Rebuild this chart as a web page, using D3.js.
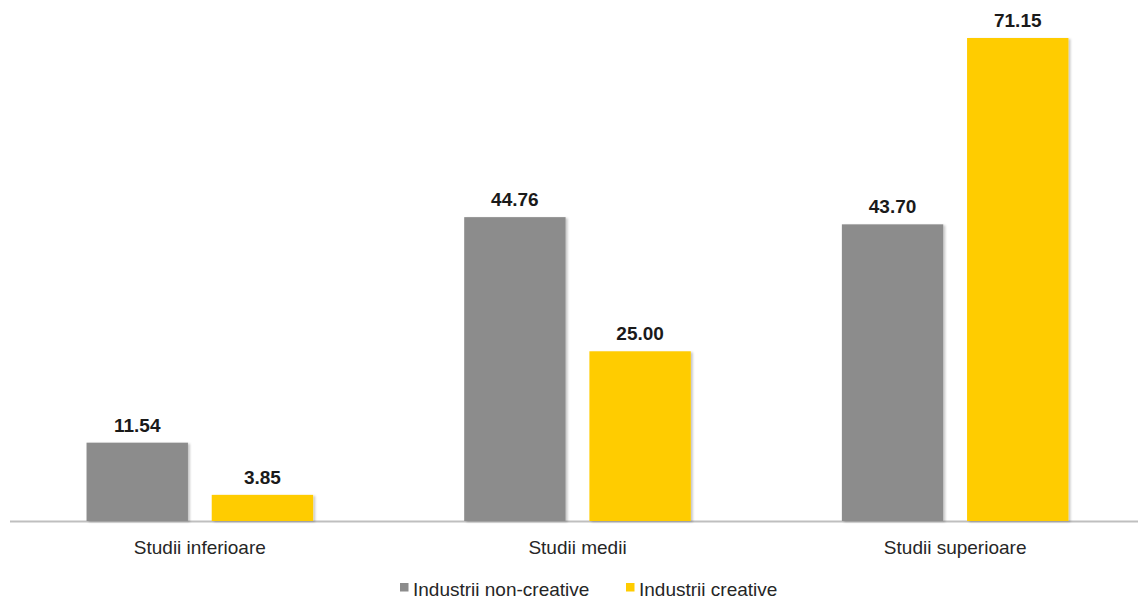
<!DOCTYPE html>
<html>
<head>
<meta charset="utf-8">
<script src="https://cdn.jsdelivr.net/npm/d3@7"></script>
<style>
  body { margin: 0; background: #fff; }
  svg { display: block; font-family: "Liberation Sans", Arial, sans-serif; }
</style>
</head>
<body>
<div id="chart"></div>
<script>
const W = 1138, H = 599;

const categories = ["Studii inferioare", "Studii medii", "Studii superioare"];
const seriesNames = ["Industrii non-creative", "Industrii creative"];
const nonCreative = [11.54, 44.76, 43.70];
const creative = [3.85, 25.00, 71.15];
const seriesColors = ["#8c8c8c", "#ffcc00"];

const values = [nonCreative, creative];

const svg = d3.select("#chart").append("svg").attr("width", W).attr("height", H);

const defs = svg.append("defs");
const f = defs.append("filter").attr("id", "shadow").attr("x", "-10%").attr("y", "-10%").attr("width", "130%").attr("height", "130%");
f.append("feDropShadow").attr("dx", 2).attr("dy", 1).attr("stdDeviation", 1.2).attr("flood-color", "#000").attr("flood-opacity", 0.22);

const x0 = d3.scaleBand().domain(categories).range([11, 1144]).paddingInner(0.4).paddingOuter(0.2);
const x1 = d3.scaleBand().domain(seriesNames).range([0, x0.bandwidth()]).paddingInner(0.19).paddingOuter(0);
const y = d3.scaleLinear().domain([0, 71.15]).range([521, 38]);

// axis line
svg.append("line").attr("x1", 10).attr("x2", W).attr("y1", 521.5).attr("y2", 521.5)
  .attr("stroke", "#bfbfbf").attr("stroke-width", 2);

const groups = svg.selectAll("g.cat").data(categories).join("g")
  .attr("class", "cat").attr("transform", d => `translate(${x0(d)},0)`);

groups.each(function (cat, ci) {
  const g = d3.select(this);
  seriesNames.forEach((s, si) => {
    const v = values[si][ci];
    g.append("rect")
      .attr("x", x1(s)).attr("width", x1.bandwidth())
      .attr("y", y(v)).attr("height", y(0) - y(v))
      .attr("fill", seriesColors[si]).attr("filter", "url(#shadow)");
    g.append("text")
      .attr("x", x1(s) + x1.bandwidth() / 2).attr("y", y(v) - 11)
      .attr("text-anchor", "middle").attr("font-size", 19).attr("font-weight", "bold")
      .attr("fill", "#1a1a1a").text(v.toFixed(2));
  });
});

svg.selectAll("text.cat-label").data(categories).join("text")
  .attr("class", "cat-label")
  .attr("x", d => x0(d) + x0.bandwidth() / 2).attr("y", 554)
  .attr("text-anchor", "middle").attr("font-size", 19).attr("fill", "#262626")
  .text(d => d);

// legend
const legend = svg.append("g");
const legendX = [400, 626];
seriesNames.forEach((s, i) => {
  legend.append("rect").attr("x", legendX[i]).attr("y", 583).attr("width", 8.5).attr("height", 8.5)
    .attr("fill", seriesColors[i]);
  legend.append("text").attr("x", legendX[i] + 13).attr("y", 596)
    .attr("font-size", 19).attr("fill", "#262626").text(s);
});
</script>
</body>
</html>
